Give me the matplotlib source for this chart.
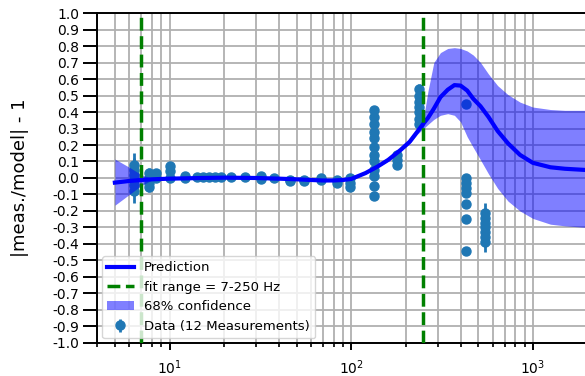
import matplotlib
matplotlib.use("Agg")
import matplotlib.pyplot as plt
from matplotlib.ticker import MultipleLocator, FormatStrFormatter

# model prediction and 68% band, sampled on a log frequency grid (Hz)
pred_freq = [5, 6, 7, 8, 10, 15, 20, 30, 40, 50, 60, 70, 80, 90, 100,
             120, 140, 160, 187, 210, 231, 250, 265, 285, 310, 340, 370,
             400, 435, 470, 515, 570, 640, 730, 850, 1000, 1250, 1500, 2000]
pred_val = [-0.028, -0.018, -0.012, -0.008, -0.004, 0.0, 0.002, 0.0, -0.004,
            -0.008, -0.012, -0.015, -0.015, -0.012, -0.006,
            0.03, 0.07, 0.11, 0.17, 0.22, 0.28, 0.33, 0.365, 0.42, 0.49, 0.535,
            0.563, 0.56, 0.53, 0.48, 0.435, 0.37, 0.285, 0.21, 0.14, 0.092,
            0.065, 0.056, 0.048]
pred_hi = [0.115, 0.065, 0.02, -0.004, 0.0, 0.004, 0.006, 0.004, 0.0,
           -0.004, -0.008, -0.011, -0.011, -0.008, -0.002,
           0.035, 0.076, 0.117, 0.18, 0.232, 0.295, 0.36, 0.53, 0.70, 0.76,
           0.785, 0.79, 0.785, 0.77, 0.745, 0.70, 0.63, 0.56, 0.505, 0.46,
           0.43, 0.415, 0.41, 0.41]
pred_lo = [-0.165, -0.10, -0.045, -0.012, -0.008, -0.004, -0.002, -0.004,
           -0.008, -0.012, -0.016, -0.019, -0.019, -0.016, -0.01,
           0.025, 0.064, 0.103, 0.16, 0.208, 0.265, 0.30, 0.325, 0.355, 0.38,
           0.39, 0.38, 0.34, 0.25, 0.185, 0.11, 0.025, -0.063, -0.14, -0.20,
           -0.245, -0.28, -0.29, -0.30]

# measured points, grouped by frequency
data_freq = [6.4, 7.7, 8.4, 10, 12.2, 14.2, 15.3, 16.5, 17.7, 19.1, 21.7, 26,
             32, 37.5, 46, 55, 68, 84, 98, 133, 179, 236, 431, 542]
data_val = [
    [0.08, 0.05, 0.02, -0.01, -0.04, -0.08],
    [0.03, 0.0, -0.03, -0.055],
    [0.03, 0.0],
    [0.07, 0.04, 0.0],
    [0.01, 0.0],
    [0.005], [0.005], [0.005], [0.005], [0.005],
    [0.005], [0.005],
    [0.01, -0.005],
    [0.0],
    [-0.01, -0.02],
    [-0.015, -0.02],
    [0.0, -0.01],
    [-0.01, -0.03],
    [0.0, -0.03, -0.055],
    [0.41, 0.37, 0.33, 0.28, 0.24, 0.19, 0.14, 0.10, 0.05, 0.01, -0.05, -0.11],
    [0.14, 0.11, 0.08],
    [0.54, 0.50, 0.46, 0.43, 0.40, 0.36, 0.33],
    [0.45, 0.0, -0.03, -0.06, -0.09, -0.16, -0.25, -0.44],
    [-0.21, -0.24, -0.27, -0.30, -0.33, -0.36, -0.39],
]
data_err = [0.07, 0.03, 0.02, 0.02, 0.02, 0.01, 0.01, 0.01, 0.01, 0.01, 0.01,
            0.01, 0.01, 0.01, 0.01, 0.01, 0.01, 0.01, 0.02, 0.02, 0.02, 0.03,
            0.02, 0.06]

fit_range = [7, 250]

fig = plt.figure(figsize=(5.85, 3.76), dpi=100)
ax = fig.add_axes([0.1663, 0.0878, 0.838, 0.8776])

xs, ys, es = [], [], []
for f, vals, e in zip(data_freq, data_val, data_err):
    for v in vals:
        xs.append(f)
        ys.append(v)
        es.append(e)

h_data = ax.errorbar(xs, ys, yerr=es, fmt='o', color='C0', ms=6.5,
                     elinewidth=2, capsize=0, zorder=2,
                     label='Data (12 Measurements)')
h_band = ax.fill_between(pred_freq, pred_lo, pred_hi, color='blue', alpha=0.5,
                         lw=0, zorder=3, label='68% confidence')
h_pred, = ax.plot(pred_freq, pred_val, color='blue', lw=3, zorder=4,
                  label='Prediction')
fit_lines = [ax.axvline(f, color='green', ls='--', lw=2.5, zorder=5)
             for f in fit_range]
fit_lines[0].set_label('fit range = 7-250 Hz')

ax.set_xscale('log')
ax.set_xlim(4, 2000)
ax.set_ylim(-1.0, 1.0)
ax.yaxis.set_major_locator(MultipleLocator(0.1))
ax.yaxis.set_major_formatter(FormatStrFormatter('%.1f'))

ax.grid(True, which='both', axis='x', color='#b0b0b0', lw=1.3, zorder=0)
ax.grid(True, which='major', axis='y', color='#b0b0b0', lw=1.3, zorder=0)
ax.set_axisbelow(True)

for s in ['left', 'bottom', 'top']:
    ax.spines[s].set_linewidth(1.4)
ax.spines['right'].set_visible(False)

ax.tick_params(axis='y', which='major', length=10, width=1.4, labelsize=10, pad=3)
ax.tick_params(axis='x', which='major', length=5, width=1.4, labelsize=10, pad=6)
ax.tick_params(axis='x', which='minor', length=3, width=1.2)

ax.set_ylabel('|meas./model| - 1', fontsize=13)
ax.yaxis.set_label_coords(-0.14, 0.5)

ax.legend(handles=[h_pred, fit_lines[0], h_band, h_data], loc='lower left',
          fontsize=9.5, borderaxespad=0.35, handlelength=2.0)

fig.savefig('out.png', dpi=100)
